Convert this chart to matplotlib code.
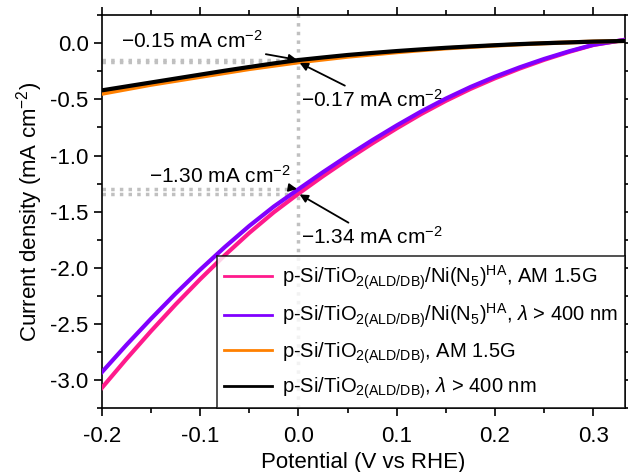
import matplotlib
matplotlib.use("Agg")
import matplotlib.pyplot as plt
from matplotlib.ticker import MultipleLocator

plt.rcParams['font.family'] = ['Liberation Sans', 'DejaVu Sans']
plt.rcParams['mathtext.fontset'] = 'custom'
plt.rcParams['mathtext.rm'] = 'Liberation Sans'
plt.rcParams['mathtext.it'] = 'Liberation Sans:italic'
plt.rcParams['mathtext.bf'] = 'Liberation Sans:bold'
plt.rcParams['axes.unicode_minus'] = False

# potential (V vs RHE)
potential = [-0.200, -0.175, -0.150, -0.125, -0.100, -0.075, -0.050, -0.025, 0.000,
             0.025, 0.050, 0.075, 0.100, 0.125, 0.150, 0.175, 0.200, 0.225,
             0.250, 0.275, 0.300, 0.332]
# current density (mA cm-2)
ni_am15 = [-3.07, -2.812, -2.564, -2.327, -2.102, -1.889, -1.689, -1.505, -1.34,
           -1.184, -1.035, -0.893, -0.758, -0.630, -0.513, -0.407, -0.312, -0.226,
           -0.148, -0.078, -0.016, 0.03]
ni_vis = [-2.93, -2.687, -2.454, -2.230, -2.017, -1.816, -1.627, -1.454, -1.30,
          -1.148, -1.003, -0.864, -0.732, -0.607, -0.493, -0.390, -0.298, -0.215,
          -0.140, -0.073, -0.014, 0.03]
bare_am15 = [-0.45, -0.41, -0.37, -0.335, -0.30, -0.265, -0.23, -0.20, -0.17,
             -0.145, -0.12, -0.10, -0.08, -0.062, -0.046, -0.033, -0.021, -0.010,
             -0.001, 0.007, 0.014, 0.02]
bare_vis = [-0.42, -0.385, -0.35, -0.315, -0.28, -0.245, -0.212, -0.18, -0.15,
            -0.127, -0.105, -0.087, -0.070, -0.055, -0.041, -0.029, -0.018, -0.008,
            0.0, 0.007, 0.014, 0.02]

marks = [-0.15, -0.17, -1.30, -1.34]

labels = [
    r'p-Si/TiO$_{2\mathrm{(ALD/DB)}}$/Ni(N$_5$)$^{\mathrm{HA}}$, AM 1.5G',
    r'p-Si/TiO$_{2\mathrm{(ALD/DB)}}$/Ni(N$_5$)$^{\mathrm{HA}}$, $\lambda$ > 400 nm',
    r'p-Si/TiO$_{2\mathrm{(ALD/DB)}}$, AM 1.5G',
    r'p-Si/TiO$_{2\mathrm{(ALD/DB)}}$, $\lambda$ > 400 nm',
]
colors = ['#ff1a8c', '#8000ff', '#ff8000', '#000000']

fig = plt.figure(figsize=(6.28, 4.72), dpi=100)
ax = fig.add_axes([0.162, 0.135, 0.833, 0.833])

# guide lines
ax.axvline(0, color='#c0c0c0', ls=(0, (1, 1.5)), lw=2.5, zorder=1)
for m in marks:
    ax.plot([-0.2, 0], [m, m], color='#c0c0c0', ls=(0, (1, 1.5)), lw=2.5, zorder=1)

for ys, c, lab in zip([ni_am15, ni_vis, bare_am15, bare_vis], colors, labels):
    ax.plot(potential, ys, color=c, lw=3, label=lab, zorder=3)

ax.set_xlim(-0.2, 0.332)
ax.set_ylim(-3.25, 0.25)
ax.xaxis.set_major_locator(MultipleLocator(0.1))
ax.xaxis.set_minor_locator(MultipleLocator(0.05))
ax.yaxis.set_major_locator(MultipleLocator(0.5))
ax.yaxis.set_minor_locator(MultipleLocator(0.25))
ax.tick_params(which='both', direction='out', labelsize=16, width=1.2)
ax.tick_params(which='major', length=6)
ax.tick_params(which='minor', length=3.5)
ax.tick_params(which='both', top=True, right=True)
ax.tick_params(axis='x', which='major', pad=7)
for s in ax.spines.values():
    s.set_linewidth(1.2)

ax.set_xlabel('Potential (V vs RHE)', fontsize=16, labelpad=3)
ax.set_ylabel(r'Current density (mA cm$^{-2}$)', fontsize=16, labelpad=4)

arrow = dict(arrowstyle='-|>', color='black', lw=1.3, mutation_scale=12, shrinkA=0, shrinkB=1)
ax.annotate('\u22120.15 mA cm$^{\u22122}$', xy=(0, -0.15), xytext=(-0.18, 0.02),
            fontsize=15, va='center', arrowprops=arrow)
ax.annotate('\u22120.17 mA cm$^{\u22122}$', xy=(0, -0.17), xytext=(0.003, -0.50),
            fontsize=15, va='center', arrowprops=arrow)
ax.annotate('\u22121.30 mA cm$^{\u22122}$', xy=(0, -1.30), xytext=(-0.152, -1.18),
            fontsize=15, va='center', arrowprops=arrow)
ax.annotate('\u22121.34 mA cm$^{\u22122}$', xy=(0, -1.34), xytext=(0.003, -1.72),
            fontsize=15, va='center', arrowprops=arrow)

leg = ax.legend(loc='lower right', fontsize=14.5, frameon=True, fancybox=False,
                edgecolor='black', borderaxespad=0, handlelength=2.4,
                handletextpad=0.5, labelspacing=0.5, borderpad=0.35)
leg.get_frame().set_linewidth(1.2)
for h in leg.get_lines():
    h.set_linewidth(2)

fig.savefig('out.png', dpi=100)
